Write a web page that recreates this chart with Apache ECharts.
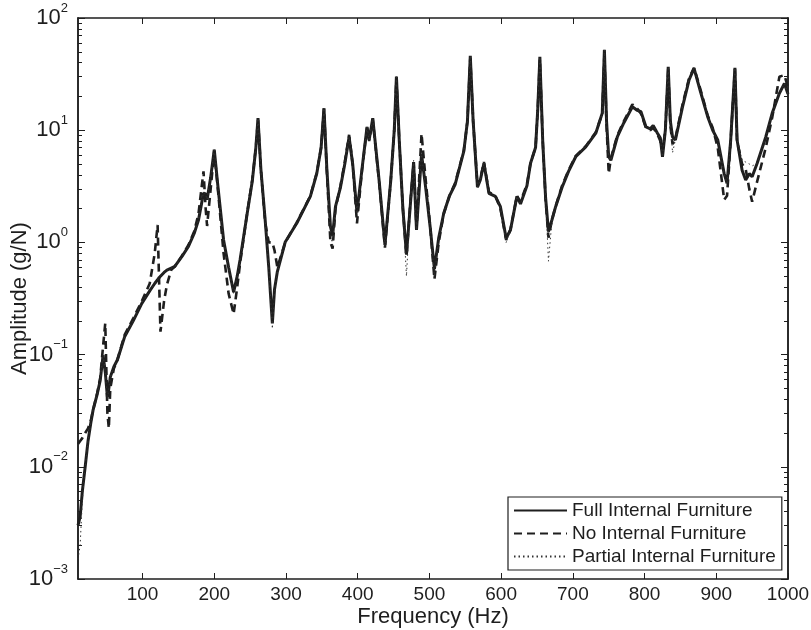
<!DOCTYPE html>
<html>
<head>
<meta charset="utf-8">
<script src="https://cdn.jsdelivr.net/npm/echarts@6/dist/echarts.min.js"></script>
<style>
  html, body { margin: 0; padding: 0; background: #fff; }
  #chart { width: 811px; height: 630px; }
</style>
</head>
<body>
<div id="chart"></div>
<script>
// Frequency grid (Hz) shared by the three measured responses
const freq = [
  10, 13, 16, 20, 24, 28, 31, 37, 41, 45,
  48, 51, 53, 55, 60, 65, 75, 87, 99, 110,
  117, 121, 125, 130, 134, 140, 145, 155, 164, 172,
  178, 185, 188, 190, 195, 200, 205, 213, 220, 227,
  232, 236, 246, 253, 258, 261, 265, 271, 276, 281,
  284, 288, 299, 315, 334, 343, 349, 353, 357, 362,
  365, 369, 376, 382, 388, 393, 399, 406, 413, 416,
  421, 430, 438, 446, 451, 454, 458, 463, 468, 473,
  478, 482, 489, 495, 501, 507, 513, 520, 528, 536,
  548, 553, 557, 561, 567, 571, 576, 583, 592, 599,
  607, 613, 622, 627, 636, 641, 648, 651, 654, 658,
  662, 666, 671, 676, 685, 694, 704, 718, 732, 741,
  744, 747, 750, 753, 762, 771, 783, 790, 795, 802,
  808, 812, 818, 822, 825, 829, 833, 836, 839, 843,
  853, 862, 869, 878, 888, 895, 902, 911, 915, 920,
  926, 929, 936, 941, 946, 950, 957, 969, 978, 988,
  995, 1000
];

// Amplitude (g/N) – full internal furniture
const ampFull = [
  0.003, 0.0036, 0.006, 0.01, 0.017, 0.025, 0.032, 0.045, 0.059, 0.099,
  0.07, 0.042, 0.05, 0.063, 0.078, 0.09, 0.144, 0.2, 0.286, 0.37,
  0.43, 0.465, 0.5, 0.54, 0.567, 0.59, 0.61, 0.75, 0.92, 1.2,
  1.58, 2.74, 2.7, 2.4, 3.8, 6.7, 3.2, 1.05, 0.6, 0.36,
  0.5, 0.7, 1.83, 3.5, 7.0, 12.8, 4.5, 1.58, 0.6, 0.19,
  0.38, 0.55, 1.01, 1.48, 2.57, 4.13, 7.0, 15.7, 4.5, 1.38,
  1.15, 2.08, 3.1, 5.0, 8.7, 5.0, 1.85, 4.5, 10.7, 8.2,
  12.8, 3.5, 0.95, 3.5, 10, 30, 8, 2.0, 0.78, 2.0,
  5.2, 1.29, 6.1, 3.0, 1.38, 0.58, 1.1, 1.82, 2.6, 3.3,
  6.5, 12, 46, 12, 3.1, 3.6, 5.07, 2.74, 2.57, 2.08,
  1.09, 1.29, 2.57, 2.2, 3.2, 5.07, 7.0, 15, 45, 8,
  2.5, 1.25, 1.6, 2.08, 3.1, 4.3, 5.8, 7.1, 9.4, 14.2,
  52, 12, 5.8, 5.4, 8.7, 11.6, 16.2, 15.0, 14.6, 10.7,
  10.3, 11, 9.4, 8.5, 5.8, 10, 36.8, 12, 8.7, 8.2,
  16.2, 28, 35.6, 22, 13.2, 10, 8.2, 4.1, 3.37, 8,
  36, 8.2, 4.4, 3.6, 4.1, 3.85, 5.07, 8.7, 14.2, 21.3,
  26.1, 21
];

// Amplitude (g/N) – no internal furniture
const ampNone = [
  0.016, 0.017, 0.018, 0.02, 0.022, 0.026, 0.032, 0.046, 0.062, 0.12,
  0.19, 0.03, 0.022, 0.05, 0.075, 0.09, 0.15, 0.21, 0.3, 0.43,
  0.8, 1.43, 0.16, 0.3, 0.42, 0.57, 0.61, 0.76, 0.95, 1.25,
  1.8, 4.3, 2.0, 1.4, 3.0, 6.5, 3.0, 0.8, 0.35, 0.23,
  0.4, 0.65, 1.85, 3.6, 7.0, 12.5, 4.5, 1.5, 1.0, 1.0,
  0.85, 0.6, 1.0, 1.5, 2.6, 4.2, 7.0, 15.5, 4.3, 1.0,
  0.88, 2.0, 3.2, 5.2, 9.1, 5.0, 1.48, 4.4, 10.5, 8.0,
  12.5, 3.4, 0.9, 3.5, 10, 29, 8, 2.0, 0.75, 2.1,
  5.2, 1.3, 9.3, 3.5, 1.4, 0.47, 1.0, 1.8, 2.6, 3.4,
  6.6, 12, 44, 12, 3.2, 3.7, 5.2, 2.8, 2.6, 2.0,
  1.05, 1.3, 2.6, 2.3, 3.3, 5.1, 7.0, 15, 43, 8,
  2.4, 1.1, 1.6, 2.1, 3.2, 4.4, 5.9, 7.2, 9.6, 14,
  48, 11, 4.1, 5.6, 9.0, 12, 17, 15.5, 14, 10.5,
  10, 10.5, 9.2, 8.0, 6.5, 10, 35, 11, 7.5, 8.5,
  17, 29, 36, 23, 13.5, 10.5, 7, 2.4, 2.6, 8,
  35, 8, 5.0, 4.5, 3.0, 2.3, 3.5, 7.0, 13, 30,
  31, 24
];

// Amplitude (g/N) – partial internal furniture
const ampPartial = [
  0.0015, 0.002, 0.005, 0.01, 0.017, 0.025, 0.032, 0.045, 0.06, 0.1,
  0.07, 0.04, 0.05, 0.063, 0.078, 0.09, 0.144, 0.2, 0.29, 0.37,
  0.43, 0.465, 0.5, 0.54, 0.567, 0.59, 0.61, 0.75, 0.92, 1.2,
  1.6, 2.8, 2.7, 2.4, 3.8, 6.7, 3.2, 1.05, 0.6, 0.35,
  0.5, 0.7, 1.83, 3.5, 7.0, 12.8, 4.5, 1.58, 0.6, 0.17,
  0.38, 0.55, 1.01, 1.48, 2.57, 4.13, 7.0, 15.7, 4.5, 1.2,
  0.95, 2.08, 3.1, 5.0, 8.7, 5.0, 1.8, 4.5, 10.7, 8.2,
  12.8, 3.5, 0.93, 3.5, 10, 30, 8, 2.0, 0.5, 2.0,
  5.4, 1.29, 6.1, 3.0, 1.38, 0.5, 1.1, 1.82, 2.6, 3.3,
  6.5, 12, 46, 12, 3.1, 3.6, 5.2, 2.74, 2.57, 2.08,
  1.0, 1.29, 2.57, 2.2, 3.2, 5.07, 7.0, 15, 45, 8,
  2.5, 0.68, 1.6, 2.08, 3.1, 4.3, 5.8, 7.1, 9.4, 14.2,
  52, 12, 5.8, 5.4, 8.7, 11.6, 16.2, 15.0, 14.6, 10.7,
  10.3, 11, 9.4, 8.5, 5.8, 10, 36.8, 12, 6.3, 8.2,
  16.2, 28, 35.6, 22, 13.2, 10, 8.2, 4.1, 3.37, 8,
  36, 8.2, 5.4, 5.2, 5.0, 4.8, 5.07, 8.7, 14.2, 21.3,
  26.1, 21
];

// Axis tick positions
const xTicks = [100, 200, 300, 400, 500, 600, 700, 800, 900, 1000];
const yMajor = [0.001, 0.01, 0.1, 1, 10, 100];
const yMinor = [
  0.002, 0.003, 0.004, 0.005, 0.006, 0.007, 0.008, 0.009,
  0.02, 0.03, 0.04, 0.05, 0.06, 0.07, 0.08, 0.09,
  0.2, 0.3, 0.4, 0.5, 0.6, 0.7, 0.8, 0.9,
  2, 3, 4, 5, 6, 7, 8, 9,
  20, 30, 40, 50, 60, 70, 80, 90
];

const seriesNames = ['Full Internal Furniture', 'No Internal Furniture', 'Partial Internal Furniture'];

const INK = '#1e1e1e';
const FONT = '"Liberation Sans", Arial, Helvetica, sans-serif';

const pairs = (amps) => freq.map((f, i) => [f, amps[i]]);

function powerLabel(v) {
  let e = Math.round(Math.log10(v));
  if (!isFinite(e)) e = v;
  return '{b|10}{s|' + (e < 0 ? '\u2212' + (-e) : e) + '}';
}

const frameLine = { show: true, lineStyle: { color: INK, width: 1.5 } };

function xAxisDef(pos, showLabel) {
  return {
    type: 'value', position: pos, min: 10, max: 1000,
    splitLine: { show: false },
    axisLine: frameLine,
    axisTick: { show: true, inside: true, length: 6, customValues: xTicks, lineStyle: { color: INK, width: 1 } },
    axisLabel: showLabel ? {
      show: true, customValues: xTicks, margin: 6.5,
      formatter: (v) => String(Math.round(v)),
      fontFamily: FONT, fontSize: 19, color: INK
    } : { show: false },
    name: showLabel ? 'Frequency (Hz)' : '',
    nameLocation: 'middle', nameGap: 27, nameMoveOverlap: false,
    nameTextStyle: { fontFamily: FONT, fontSize: 22, color: INK }
  };
}

function yAxisDef(pos, ticks, len, showLabel) {
  return {
    type: 'log', logBase: 10, position: pos, min: 0.001, max: 100,
    splitLine: { show: false },
    minorTick: { show: false },
    axisLine: frameLine,
    axisTick: { show: true, inside: true, length: len, customValues: ticks, lineStyle: { color: INK, width: 1 } },
    axisLabel: showLabel ? {
      show: true, customValues: yMajor, margin: 10,
      formatter: powerLabel,
      rich: {
        b: { fontFamily: FONT, fontSize: 22, color: INK },
        s: { fontFamily: FONT, fontSize: 13, color: INK, padding: [0, 0, 20, 0] }
      }
    } : { show: false },
    name: showLabel ? 'Amplitude (g/N)' : '',
    nameLocation: 'middle', nameGap: 47, nameMoveOverlap: false,
    nameTextStyle: { fontFamily: FONT, fontSize: 22, color: INK }
  };
}

const chart = echarts.init(document.getElementById('chart'), null, { renderer: 'canvas' });

chart.setOption({
  animation: false,
  backgroundColor: '#fff',
  grid: { left: 78, right: 23, top: 18, bottom: 51, containLabel: false, outerBoundsMode: 'none' },
  xAxis: [xAxisDef('bottom', true), xAxisDef('top', false)],
  yAxis: [
    yAxisDef('left', yMajor, 7, true),
    yAxisDef('right', yMajor, 7, false),
    yAxisDef('left', yMinor, 4, false),
    yAxisDef('right', yMinor, 4, false)
  ],
  legend: {
    data: seriesNames,
    orient: 'vertical',
    left: 508, top: 497,
    itemWidth: 53, itemHeight: 14, itemGap: 4,
    padding: [4, 6, 4, 5],
    borderColor: INK, borderWidth: 1.2, backgroundColor: '#fff',
    itemStyle: { opacity: 0 },
    textStyle: { fontFamily: FONT, fontSize: 19, color: INK },
    selectedMode: false
  },
  series: [
    {
      name: seriesNames[1], type: 'line', data: pairs(ampNone),
      showSymbol: false, symbol: 'none', z: 2,
      itemStyle: { color: INK },
      lineStyle: { color: INK, width: 2.6, type: [8, 5] }
    },
    {
      name: seriesNames[0], type: 'line', data: pairs(ampFull),
      showSymbol: false, symbol: 'none', z: 3,
      itemStyle: { color: INK },
      lineStyle: { color: INK, width: 3 }
    },
    {
      name: seriesNames[2], type: 'line', data: pairs(ampPartial),
      showSymbol: false, symbol: 'none', z: 4,
      itemStyle: { color: '#333' },
      lineStyle: { color: '#333', width: 1, type: [1.5, 3] }
    }
  ]
});
</script>
</body>
</html>
